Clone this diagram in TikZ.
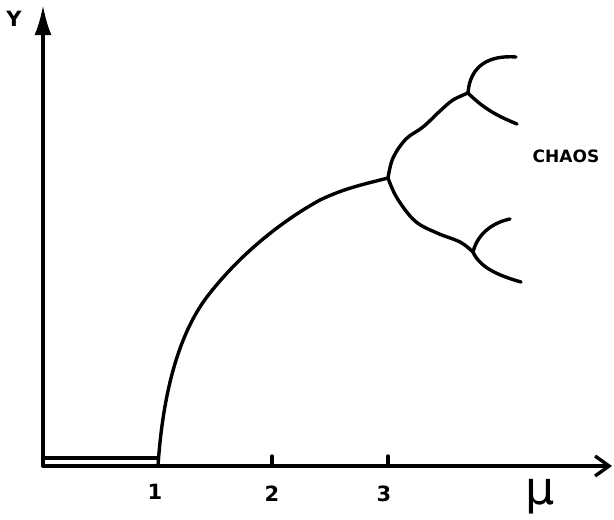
\documentclass[tikz,border=0pt]{standalone}
\usepackage{fontspec}
\setmainfont{DejaVu Sans}
\usetikzlibrary{arrows.meta}
\begin{document}
\begin{tikzpicture}[x=1pt,y=-1pt,
  ink/.style={line width=3.4pt,line cap=round,line join=round},
  lbl/.style={font=\bfseries\fontsize{21}{21}\selectfont,inner sep=0pt}]
\useasboundingbox (0,0) rectangle (614,520);
% axes
\coordinate (O) at (43,466);
\coordinate (Ytop) at (43,5);
\coordinate (Xend) at (612,466);
\draw[ink,-{Latex[length=30pt,width=17pt]}] (O) -- (Ytop);
\draw[ink,-{Straight Barb[length=14pt,width=20pt,line width=3.4pt]}] (O) -- (Xend);
% lower plateau
\coordinate (P0) at (43,458);
\coordinate (P1) at (158,458);
\draw[ink] (P0) -- (P1);
% ticks
\coordinate (T2) at (272,466); \coordinate (T2a) at (272,456);
\coordinate (T3) at (388,466); \coordinate (T3a) at (388,456);
\draw[ink] (T2) -- (T2a);
\draw[ink] (T3) -- (T3a);
% main curve
\coordinate (B0) at (158,466);
\coordinate (B1) at (388,178);
\draw[ink] (B0) .. controls (163,390) and (180,330) .. (210,293)
  .. controls (240,255) and (280,222) .. (320,200)
  .. controls (345,188) and (365,184) .. (B1);
% upper branch
\coordinate (B2) at (468,93);
\draw[ink] plot[smooth,tension=0.6] coordinates {(388,178) (393,158) (406,139) (423,127) (440,111) (453,100) (468,93)};
\draw[ink] (B2) .. controls (470,65) and (490,55) .. (516,57);
\draw[ink] (B2) .. controls (485,110) and (500,117) .. (517,124);
% lower branch
\coordinate (B3) at (473,252);
\draw[ink] plot[smooth,tension=0.6] coordinates {(388,178) (397,198) (415,221) (437,233) (460,242) (473,252)};
\draw[ink] (B3) .. controls (478,232) and (495,222) .. (510,219);
\draw[ink] (B3) .. controls (480,268) and (500,276) .. (521,282);
% labels
\node[lbl] (ly) at (14,19) {Y};
\node[lbl] (l1) at (155,492) {1};
\node[lbl] (l2) at (272,494) {2};
\node[lbl] (l3) at (384,494) {3};
\node[inner sep=0pt,font=\fontsize{46}{46}\selectfont] (lmu) at (540,497) {μ};
\node[lbl,font=\bfseries\fontsize{17}{17}\selectfont] (lc) at (566,156) {CHAOS};
\end{tikzpicture}
\end{document}
